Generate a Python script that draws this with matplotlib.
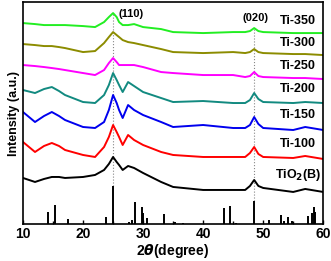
import matplotlib
matplotlib.use("Agg")
import matplotlib.pyplot as plt
from matplotlib.ticker import MultipleLocator

plt.rcParams["font.family"] = ["Liberation Sans", "DejaVu Sans"]
plt.rcParams["font.weight"] = "bold"

# shared 2theta grid for the patterns (degree)
theta = [10, 12, 13.5, 14.8, 16, 17, 20, 22, 23.5, 24.3, 25, 25.6, 26, 26.6,
         27.5, 28.5, 30, 33, 35, 40, 45, 47, 47.8, 48.5, 49.2, 50, 55, 57, 60]

# offset intensities (a.u.)
ti350 = [201, 200, 199, 199, 199, 199, 198, 197, 202, 207, 211, 207, 202, 199,
         199, 200, 197, 195, 192, 191, 192, 192, 193, 196, 193, 192, 191, 191, 191]
ti300 = [180, 179, 178, 178, 177, 176, 172, 173, 181, 187, 192, 189, 187, 184,
         182, 181, 179, 175, 172, 171, 172, 171, 172, 175, 172, 171, 170, 170, 169]
ti250 = [159, 158, 157, 156, 155, 154, 151, 149, 154, 161, 166, 162, 159, 159,
         159, 159, 157, 152, 151, 149, 149, 147, 148, 152, 148, 147, 146, 146, 145]
ti200 = [134, 131, 135, 137, 133, 129, 122, 121, 129, 139, 151, 144, 139, 132,
         142, 138, 132, 126, 122, 123, 121, 121, 124, 131, 125, 122, 121, 122, 121]
ti150 = [112, 102, 108, 112, 108, 104, 97, 96, 102, 114, 129, 121, 114, 106,
         119, 114, 109, 102, 97, 99, 96, 96, 99, 107, 100, 96, 94, 97, 94]
ti100 = [82, 72, 78, 81, 78, 74, 69, 67, 77, 87, 99, 92, 87, 79,
         89, 84, 79, 72, 69, 67, 67, 67, 71, 77, 70, 67, 66, 68, 65]
tio2b = [46, 42, 45, 47, 47, 46, 47, 49, 54, 60, 67, 62, 59, 54,
         58, 56, 51, 42, 37, 34, 34, 34, 38, 44, 38, 36, 32, 35, 32]

series = [ti350, ti300, ti250, ti200, ti150, ti100, tio2b]
names = ["Ti-350", "Ti-300", "Ti-250", "Ti-200", "Ti-150", "Ti-100", "TiO$_2$(B)"]
colors = ["#22ee22", "#8c8c00", "#ff00ff", "#128a80", "#0000ee", "#ff0000", "#000000"]
label_y = [203, 181, 158, 135, 109, 80, 49]

# reference pattern (JCPDS sticks)
ref_pos = [14.2, 15.3, 17.55, 23.8, 25.0, 27.7, 28.1, 28.7, 29.8, 30.0, 30.7,
           33.4, 35.3, 36.6, 43.55, 44.55, 45.5, 48.55, 50.9, 52.9, 53.5, 54.1,
           54.8, 57.4, 58.1, 58.4, 58.55]
ref_int = [12, 19, 5, 7, 38, 2, 4, 22, 17, 11, 6,
           10, 2, 1, 16, 18, 1, 23, 4, 9, 3, 7,
           3, 8, 11, 17, 12]

fig = plt.figure(figsize=(3.31, 2.61), dpi=100)
ax = fig.add_axes([0.0695, 0.142, 0.907, 0.85])

# guide lines for (110) and (020)
ax.vlines(25.0, 38, 211, colors="#888888", linestyles=":", linewidth=0.8, zorder=1)
ax.vlines(48.55, 23, 196, colors="#888888", linestyles=":", linewidth=0.8, zorder=1)

for y, name, c, ly in zip(series, names, colors, label_y):
    ax.plot(theta, y, color=c, linewidth=1.4, zorder=2)
    ax.text(55.8, ly, name, color="black", fontsize=9, fontweight="bold",
            ha="center", va="center")

ax.vlines(ref_pos, 0, ref_int, colors="black", linewidth=1.4)

ax.text(28.0, 210, "(110)", fontsize=8, fontweight="bold", ha="center", va="center")
ax.text(48.8, 206, "(020)", fontsize=8, fontweight="bold", ha="center", va="center")

ax.set_xlim(10, 60)
ax.set_ylim(0, 222)
ax.set_yticks([])
ax.xaxis.set_major_locator(MultipleLocator(10))
ax.xaxis.set_minor_locator(MultipleLocator(5))
ax.tick_params(axis="x", which="major", direction="in", length=3, width=1,
               labelsize=10, pad=2)
ax.tick_params(axis="x", which="minor", direction="in", length=2, width=1)
for lbl in ax.get_xticklabels():
    lbl.set_fontweight("bold")
for s in ax.spines.values():
    s.set_linewidth(1.2)

ax.set_xlabel(r"2$\it{\theta}$(degree)", fontsize=10, fontweight="bold", labelpad=1)
ax.set_ylabel("Intensity (a.u.)", fontsize=9, fontweight="bold", labelpad=2)

fig.savefig("out.png", dpi=100)
